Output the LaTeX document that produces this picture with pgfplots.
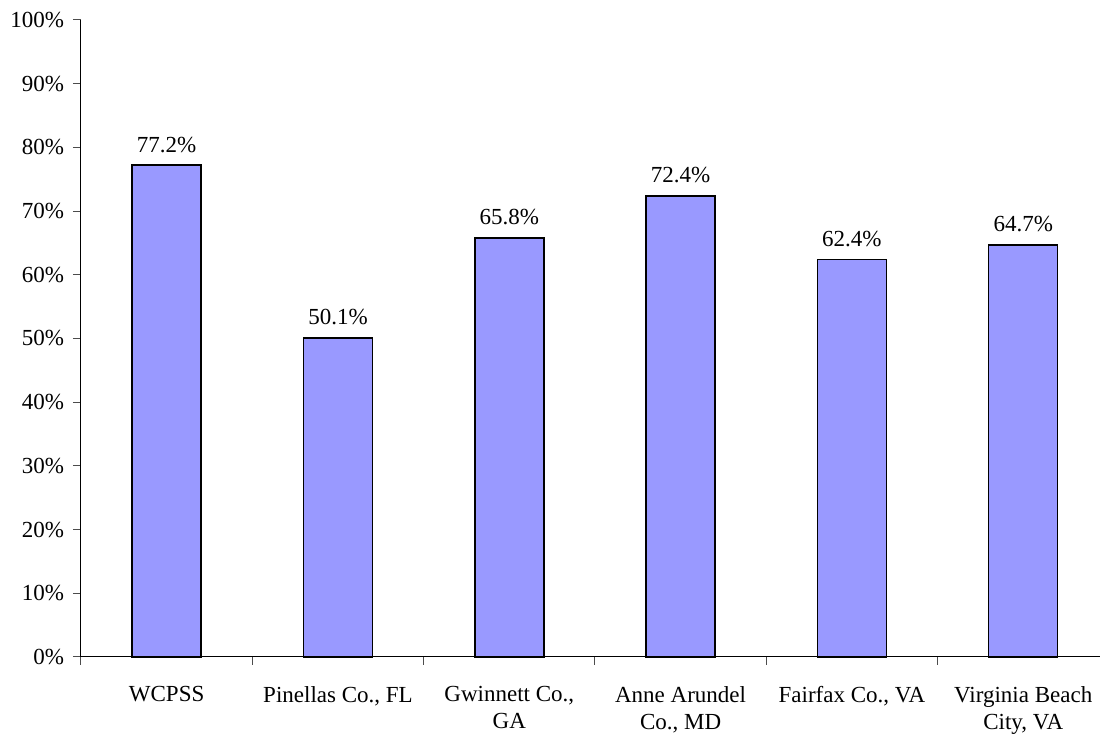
\documentclass[border=0pt]{standalone}
\usepackage{fontspec}
\setmainfont{Liberation Serif}
\usepackage{pgfplots}
\pgfplotsset{compat=1.18}
\definecolor{barblue}{HTML}{9999FF}

\begin{document}
\begin{tikzpicture}
  % fixed frame: 1 px of the reference = 0.5pt
  \useasboundingbox (-40.5pt,-38.5pt) rectangle (509.5pt,328.5pt);
  \begin{axis}[
      scale only axis,
      width=509.5pt,
      height=318.5pt,
      ybar,
      bar width=34.5pt,
      xmin=-0.5, xmax=5.448,
      ymin=0, ymax=100,
      axis x line=bottom,
      axis y line=left,
      axis line style={-, black, line width=0.5pt},
      tick align=outside,
      major tick length=4pt,
      tick style={black!70, line width=0.5pt},
      xtick={-0.5,0.5,1.5,2.5,3.5,4.5},
      xticklabels={},
      extra x ticks={0,1,2,3,4,5},
      extra x tick labels={WCPSS, {Pinellas Co., FL}, {Gwinnett Co.,\\GA}, {Anne Arundel\\Co., MD}, {Fairfax Co., VA}, {Virginia Beach\\City, VA}},
      extra x tick style={major tick length=0pt},
      xticklabel style={align=center, yshift=-11pt},
      ytick={0,10,20,30,40,50,60,70,80,90,100},
      yticklabels={0\%,10\%,20\%,30\%,40\%,50\%,60\%,70\%,80\%,90\%,100\%},
      yticklabel style={xshift=-1pt},
      ticklabel style={font=\fontsize{11.5}{13.5}\selectfont},
      /pgf/number format/assume math mode=true,
      nodes near coords={\pgfmathprintnumber[fixed,precision=1,fixed zerofill]{\pgfplotspointmeta}\%},
      nodes near coords style={font=\fontsize{11.5}{13.5}\selectfont, anchor=base, yshift=6.5pt, inner sep=0pt},
      clip=false,
    ]
    \addplot[fill=barblue, draw=black, line width=0.75pt] coordinates {
      (0,77.2) (1,50.1) (2,65.8) (3,72.4) (4,62.4) (5,64.7)
    };
  \end{axis}
\end{tikzpicture}
\end{document}
